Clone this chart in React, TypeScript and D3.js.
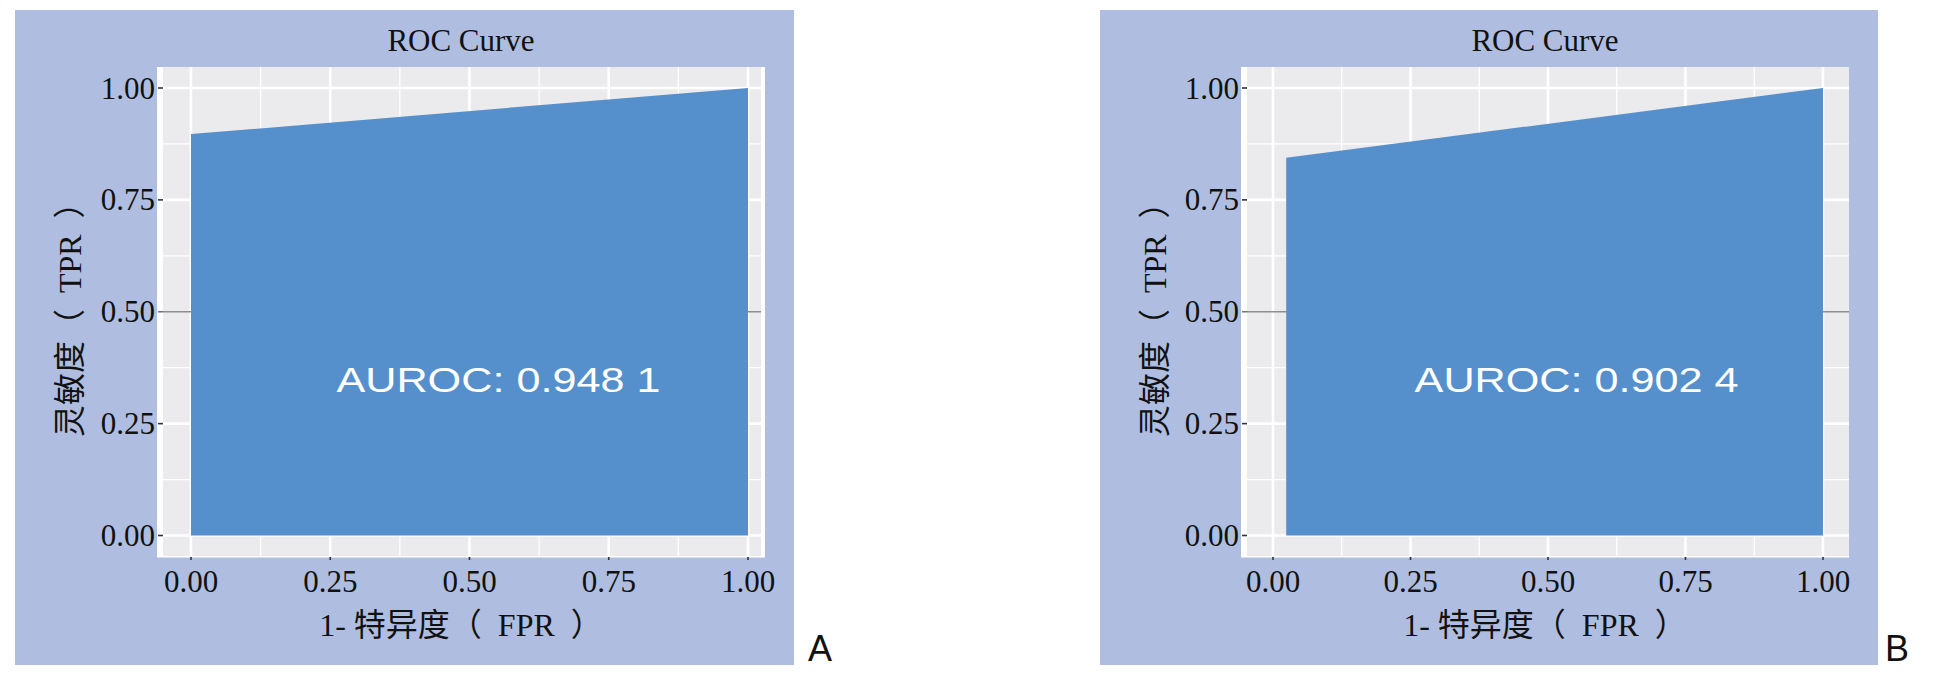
import React from 'react';
import * as d3 from 'd3';

// ---------- data ----------
const panelLetters = ['A', 'B'];
const aurocLabels = ['AUROC: 0.948 1', 'AUROC: 0.902 4'];
const fprA = [0, 1];
const tprA = [0.897, 1];
const fprB = [0.024, 1];
const tprB = [0.844, 1];
const majorTicks = [0, 0.25, 0.5, 0.75, 1];
const minorTicks = [0.125, 0.375, 0.625, 0.875];
const tickLabels = ['0.00', '0.25', '0.50', '0.75', '1.00'];
const chartTitle = 'ROC Curve';
const xTitle = '1- 特异度（\u2002FPR\u2002）';
const yTitle = '灵敏度（\u2002TPR\u2002）';

const series = [
  { fpr: fprA, tpr: tprA },
  { fpr: fprB, tpr: tprB },
];

// ---------- layout ----------
const W = 1940;
const H = 676;
const layouts = [
  { bgX: 15, bgW: 779, x0: 191, x1: 748, panelL: 163, panelR: 761, stripR: 4, letterX: 808 },
  { bgX: 1100, bgW: 778, x0: 1273, x1: 1823, panelL: 1247, panelR: 1849, stripR: 0, letterX: 1885 },
];
const BG_Y = 10;
const BG_H = 655;
const PANEL_T = 67;
const PANEL_B = 556;

const BG = '#AFBEE0';
const PANEL = '#EBEAEC';
const FILL = '#5590CC';
const SERIF = '"Liberation Serif", "Times New Roman", "Noto Sans CJK SC", serif';
const SANS = '"Liberation Sans", Arial, sans-serif';

const yScale = d3.scaleLinear().domain([0, 1]).range([535.5, 88]);

function Panel({ idx }: { idx: number }) {
  const L = layouts[idx];
  const d = series[idx];
  const xScale = d3.scaleLinear().domain([0, 1]).range([L.x0, L.x1]);
  const pts = d.fpr.map((f, i) => ({ f, t: d.tpr[i] }));
  const area = d3
    .area<{ f: number; t: number }>()
    .x((p) => xScale(p.f))
    .y0(yScale(0))
    .y1((p) => yScale(p.t));
  const panelCx = (L.panelL - 6 + L.panelR + L.stripR) / 2;
  const plotCy = (yScale(0) + yScale(1)) / 2;

  return (
    <g>
      <rect x={L.bgX} y={BG_Y} width={L.bgW} height={BG_H} fill={BG} />
      <text x={panelCx} y={51} textAnchor="middle" fontFamily={SERIF} fontSize={31} fill="#111">
        {chartTitle}
      </text>
      {/* panel */}
      <rect x={L.panelL} y={PANEL_T} width={L.panelR - L.panelL} height={PANEL_B - PANEL_T} fill={PANEL} />
      <rect x={L.panelL - 6} y={PANEL_T} width={6} height={PANEL_B - PANEL_T + 1.5} fill="#FFFFFF" />
      {L.stripR > 0 && (
        <rect x={L.panelR} y={PANEL_T} width={L.stripR} height={PANEL_B - PANEL_T + 1.5} fill="#FFFFFF" />
      )}
      <rect x={L.panelL} y={PANEL_B} width={L.panelR - L.panelL} height={1.5} fill="#FFFFFF" />
      {/* minor grid */}
      {minorTicks.map((v) => (
        <line key={'mx' + v} x1={xScale(v)} x2={xScale(v)} y1={PANEL_T} y2={PANEL_B} stroke="#FFFFFF" strokeWidth={1.3} />
      ))}
      {minorTicks.map((v) => (
        <line key={'my' + v} x1={L.panelL} x2={L.panelR} y1={yScale(v)} y2={yScale(v)} stroke="#FFFFFF" strokeWidth={1.3} />
      ))}
      {/* major grid */}
      {majorTicks.map((v) => (
        <line key={'Mx' + v} x1={xScale(v)} x2={xScale(v)} y1={PANEL_T} y2={PANEL_B} stroke="#FFFFFF" strokeWidth={2.6} />
      ))}
      {majorTicks.map((v) => (
        <line
          key={'My' + v}
          x1={L.panelL}
          x2={L.panelR}
          y1={yScale(v)}
          y2={yScale(v)}
          stroke={v === 0.5 ? '#8E8E8E' : '#FFFFFF'}
          strokeWidth={v === 0.5 ? 1.6 : 2.6}
        />
      ))}
      {/* area */}
      <path d={area(pts) || ''} fill={FILL} />
      <text
        x={xScale(0.552)}
        y={yScale(0.32)}
        textAnchor="middle"
        fontFamily={SANS}
        fontSize={35}
        fill="#FFFFFF"
        textLength={324}
        lengthAdjust="spacingAndGlyphs"
      >
        {aurocLabels[idx]}
      </text>
      {/* y ticks */}
      {majorTicks.map((v, i) => (
        <g key={'yt' + v}>
          <line x1={L.panelL - 5} x2={L.panelL} y1={yScale(v)} y2={yScale(v)} stroke={v === 0.5 ? '#777' : '#333'} strokeWidth={1.6} />
          <text x={L.panelL - 8} y={yScale(v) + 10.5} textAnchor="end" fontFamily={SERIF} fontSize={31} fill="#111">
            {tickLabels[i]}
          </text>
        </g>
      ))}
      {/* x ticks */}
      {majorTicks.map((v, i) => (
        <g key={'xt' + v}>
          <line x1={xScale(v)} x2={xScale(v)} y1={PANEL_B + 1} y2={PANEL_B + 4} stroke="#333" strokeWidth={1.6} />
          <text x={xScale(v)} y={592} textAnchor="middle" fontFamily={SERIF} fontSize={31} fill="#111">
            {tickLabels[i]}
          </text>
        </g>
      ))}
      {/* axis titles */}
      <text x={panelCx} y={636} textAnchor="middle" fontFamily={SERIF} fontSize={32} fill="#111">
        {xTitle}
      </text>
      <text
        transform={`translate(${L.bgX + 55},${plotCy}) rotate(-90)`}
        textAnchor="middle"
        dominantBaseline="central"
        fontFamily={SERIF}
        fontSize={32}
        fill="#111"
      >
        {yTitle}
      </text>
      {/* panel letter */}
      <text x={L.letterX} y={661} fontFamily={SANS} fontSize={36} fill="#111">
        {panelLetters[idx]}
      </text>
    </g>
  );
}

export default function App() {
  return (
    <svg
      width={W}
      height={H}
      viewBox={`0 0 ${W} ${H}`}
      style={{ position: 'absolute', left: 0, top: 0, background: '#FFFFFF' }}
    >
      <rect x={0} y={0} width={W} height={H} fill="#FFFFFF" />
      <Panel idx={0} />
      <Panel idx={1} />
    </svg>
  );
}
